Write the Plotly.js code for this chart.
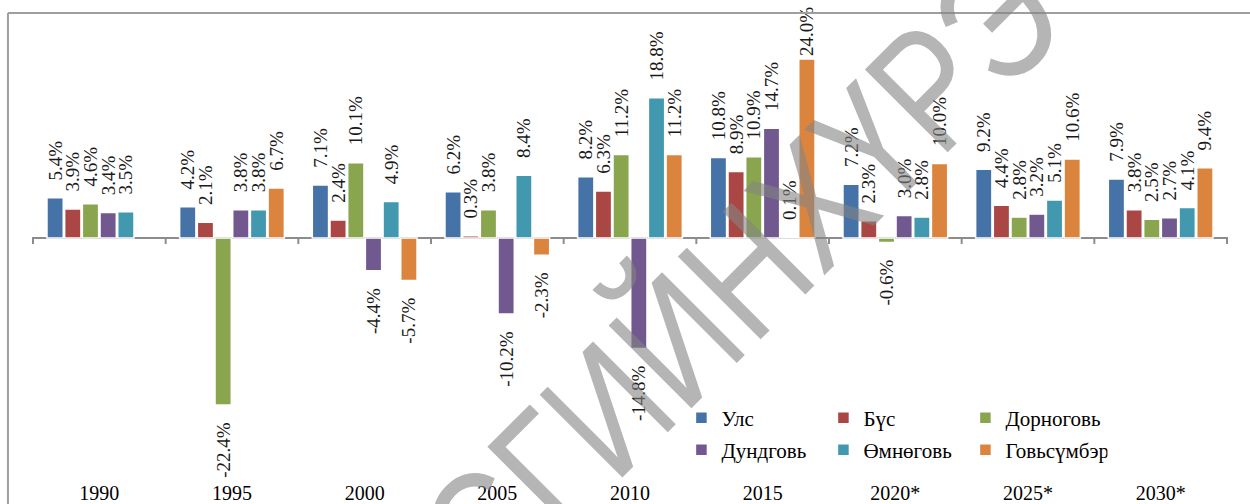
<!DOCTYPE html>
<html>
<head>
<meta charset="utf-8">
<script src="https://cdn.plot.ly/plotly-3.0.1.min.js"></script>
<style>html,body{margin:0;padding:0;background:#fff;}#chart{width:1250px;height:504px;}</style>
</head>
<body>
<div id="chart"></div>
<script>
const categories = ['1990', '1995', '2000', '2005', '2010', '2015', '2020*', '2025*', '2030*'];
const seriesNames = ['Улс', 'Бүс', 'Дорноговь', 'Дундговь', 'Өмнөговь', 'Говьсүмбэр'];
const uls        = [5.4, 4.2, 7.1, 6.2, 8.2, 10.8, 7.2, 9.2, 7.9];
const bus        = [3.9, 2.1, 2.4, 0.3, 6.3, 8.9, 2.3, 4.4, 3.8];
const dornogovi  = [4.6, -22.4, 10.1, 3.8, 11.2, 10.9, -0.6, 2.8, 2.5];
const dundgovi   = [3.4, 3.8, -4.4, -10.2, -14.8, 14.7, 3.0, 3.2, 2.7];
const umnugovi   = [3.5, 3.8, 4.9, 8.4, 18.8, 0.1, 2.8, 5.1, 4.1];
const govisumber = [null, 6.7, -5.7, -2.3, 11.2, 24.0, 10.0, 10.6, 9.4];
const colors = ['#4572A7', '#AA4643', '#89A54E', '#71588F', '#4198AF', '#DB843D'];
const watermarkText = 'СГИЙНХҮРЭ';

const allSeries = [uls, bus, dornogovi, dundgovi, umnugovi, govisumber];
const serif = "'Liberation Serif', 'Times New Roman', serif";
const yRange = [-31.64, 29.22];
const pad = '\u00a0\u00a0\u00a0';

function label(v) {
  if (v === null) return '';
  const s = v.toFixed(1) + '%';
  if (v < 0) return s + pad;
  return (v + 6 > yRange[1]) ? s : pad + s;
}

const traces = allSeries.map((vals, i) => ({
  type: 'bar',
  name: seriesNames[i],
  x: categories,
  y: vals,
  text: vals.map(label),
  textposition: 'outside',
  textangle: -90,
  constraintext: 'none',
  cliponaxis: false,
  textfont: {family: serif, size: 19, color: '#1a1a1a'},
  marker: {color: colors[i], line: {color: '#ffffff', width: 1.5}},
  legend: i < 3 ? 'legend' : 'legend2',
  hoverinfo: 'x+y+name'
}));

const shapes = [];
for (let i = 0; i <= categories.length; i++) {
  shapes.push({type: 'line', xref: 'x', yref: 'y', x0: i - 0.5, x1: i - 0.5, y0: 0, y1: -0.8,
    line: {color: '#8c8c8c', width: 2}, layer: 'below'});
}
shapes.push({type: 'line', xref: 'paper', yref: 'paper', x0: -0.0201, x1: -0.0201, y0: -0.2, y1: 1.0154,
  line: {color: '#9e9e9e', width: 2}});
shapes.push({type: 'line', xref: 'paper', yref: 'paper', x0: -0.0201, x1: 1.05, y0: 1.0154, y1: 1.0154,
  line: {color: '#9e9e9e', width: 2}});

const legendCommon = {
  orientation: 'h', xanchor: 'left', yanchor: 'middle',
  font: {family: serif, size: 21, color: '#000'},
  entrywidth: 97, entrywidthmode: 'pixels',
  bgcolor: 'rgba(0,0,0,0)', borderwidth: 0, tracegroupgap: 0, itemclick: false
};

const layout = {
  width: 1250, height: 504,
  margin: {l: 32, r: 22, t: 20, b: 30},
  paper_bgcolor: '#ffffff', plot_bgcolor: '#ffffff',
  barmode: 'group', bargap: 0.2, bargroupgap: 0.08,
  showlegend: true,
  legend: Object.assign({}, legendCommon, {x: 0.543, y: 1 - (418 - 20) / 454}),
  legend2: Object.assign({}, legendCommon, {x: 0.543, y: 1 - (450 - 20) / 454}),
  xaxis: {
    type: 'category', showgrid: false, showline: false, zeroline: false, ticks: '',
    ticklabelstandoff: 5,
    tickfont: {family: serif, size: 20, color: '#000'}, fixedrange: true
  },
  yaxis: {
    range: yRange, showgrid: false, showline: false, showticklabels: false, ticks: '',
    zeroline: true, zerolinecolor: '#8c8c8c', zerolinewidth: 2, fixedrange: true
  },
  shapes: shapes,
  annotations: [{
    xref: 'paper', yref: 'paper', x: 0.592, y: 0.4383, text: watermarkText, showarrow: false,
    textangle: -45, font: {family: "'Liberation Sans', Arial, sans-serif", size: 170, color: 'rgba(132,132,132,0.6)'}
  }]
};

Plotly.newPlot('chart', traces, layout, {displayModeBar: false, staticPlot: true}).then(() => {
  // condense the watermark glyphs horizontally (in the text's own frame)
  document.querySelectorAll('.annotation-text').forEach(t => {
    const b = t.getBBox();
    const cx = b.x + b.width / 2, cy = b.y + b.height / 2;
    const prev = t.getAttribute('transform') || '';
    t.setAttribute('transform', 'translate(' + cx + ',' + cy + ') scale(0.8,1) translate(' + (-cx) + ',' + (-cy) + ') ' + prev);
  });
});
</script>
</body>
</html>
